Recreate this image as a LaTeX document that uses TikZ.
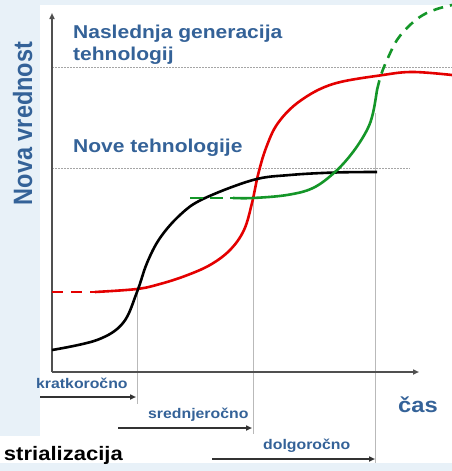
\documentclass[tikz,border=0pt]{standalone}
\usepackage{fontspec}
\usepackage{graphicx}
\setmainfont{Liberation Sans}
\newfontfamily\labfont[FakeStretch=1.13]{Liberation Sans}
\usetikzlibrary{arrows.meta}
\definecolor{bgblue}{RGB}{232,241,248}
\definecolor{txtblue}{RGB}{52,98,152}
\definecolor{cred}{RGB}{228,0,0}
\definecolor{cgreen}{RGB}{20,150,40}
\definecolor{axisgray}{RGB}{80,80,80}
\definecolor{guide}{RGB}{185,185,185}
\definecolor{dotgray}{RGB}{165,165,165}
\begin{document}
\begin{tikzpicture}[x=1pt,y=-1pt,
  big/.style={font=\labfont\bfseries\fontsize{18.6}{22}\selectfont, text=txtblue, inner sep=0pt, anchor=base west},
  small/.style={font=\labfont\bfseries\fontsize{14}{16}\selectfont, text=txtblue, inner sep=0pt, anchor=base west},
  curve/.style={line width=2.6pt},
  axisline/.style={draw=axisgray, line width=1.8pt, -{Triangle[length=6pt,width=5pt]}},
  spanarrow/.style={draw=black!80, line width=1.5pt, -{Triangle[length=6pt,width=5pt]}},
  guideline/.style={draw=guide, line width=1pt},
  dots/.style={draw=dotgray, line width=1pt, dash pattern=on 1.5pt off 1.5pt}]
\useasboundingbox (0,0) rectangle (452,471);
% background
\fill[bgblue] (0,0) rectangle (452,471);
\fill[white] (40,5) rectangle (452,463);
\fill[white] (0,436) rectangle (40,463);
% dotted levels
\coordinate (d1a) at (52,67); \coordinate (d1b) at (452,67);
\coordinate (d2a) at (52,168); \coordinate (d2b) at (410,168);
\draw[dots] (d1a) -- (d1b);
\draw[dots] (d2a) -- (d2b);
% guide lines
\coordinate (v1a) at (137,289); \coordinate (v1b) at (137,404);
\coordinate (v2a) at (253,198); \coordinate (v2b) at (253,434);
\coordinate (v3a) at (375,113); \coordinate (v3b) at (375,463);
\draw[guideline] (v1a) -- (v1b);
\draw[guideline] (v2a) -- (v2b);
\draw[guideline] (v3a) -- (v3b);
% axes
\coordinate (O) at (52,372); \coordinate (ytop) at (52,13); \coordinate (xend) at (419,372);
\draw[axisline] (O) -- (ytop);
\draw[axisline] (O) -- (xend);
% curves
\draw[curve, cred, dash pattern=on 11pt off 8pt] (52,292) -- (95,292);
\draw[curve, cred] plot[smooth, tension=0.6] coordinates {(95,292) (137,289) (160,284) (185,276) (210,265) (230,250) (244,230) (252,203) (258,175) (266,148) (278,123) (300,101) (333,84) (383,75) (413,72) (452,75)};
\draw[curve, black] plot[smooth, tension=0.6] coordinates {(52,350) (97,340) (123,323) (137,292) (147,263) (160,238) (180,215) (203,199) (253,180) (290,175) (335,172.5) (377,172)};
\draw[curve, cgreen, dash pattern=on 13pt off 7pt] (190,198) -- (233,198);
\draw[curve, cgreen] plot[smooth, tension=0.6] coordinates {(233,198) (253,198) (287,195) (313,188) (335,172) (353,152) (367,130) (373,113) (377,90)};
\draw[curve, cgreen, dash pattern=on 10pt off 7pt] plot[smooth, tension=0.6] coordinates {(377,90) (381,75) (387,60) (397,40) (410,25) (423,15) (437,9) (452,5)};
% span arrows
\coordinate (k1) at (40,397); \coordinate (k2) at (136,397);
\coordinate (s1) at (118,428); \coordinate (s2) at (252,428);
\coordinate (g1) at (212,459); \coordinate (g2) at (375,459);
\draw[spanarrow] (k1) -- (k2);
\draw[spanarrow] (s1) -- (s2);
\draw[spanarrow] (g1) -- (g2);
% labels
\node[big] (nasl) at (73,38) {Naslednja generacija};
\node[big] (tehn) at (73,60) {tehnologij};
\node[big] (nove) at (73,152) {Nove tehnologije};
\node[small] (kr) at (36,388) {kratkoročno};
\node[small] (sr) at (148,418) {srednjeročno};
\node[small] (dg) at (263,449) {dolgoročno};
\node[font=\labfont\bfseries\fontsize{21}{24}\selectfont, text=txtblue, inner sep=0pt, anchor=base west] (cas) at (398,412) {čas};
\node[font=\labfont\bfseries\fontsize{19.5}{22}\selectfont, text=black, inner sep=0pt, anchor=base east] (ind) at (123,460) {strializacija};
\node[rotate=90, anchor=base, inner sep=0pt, text=txtblue, font=\bfseries\fontsize{23.5}{26}\selectfont] (yl) at (32,123.5) {\scalebox{1}[1.13]{Nova vrednost}};
\end{tikzpicture}
\end{document}
